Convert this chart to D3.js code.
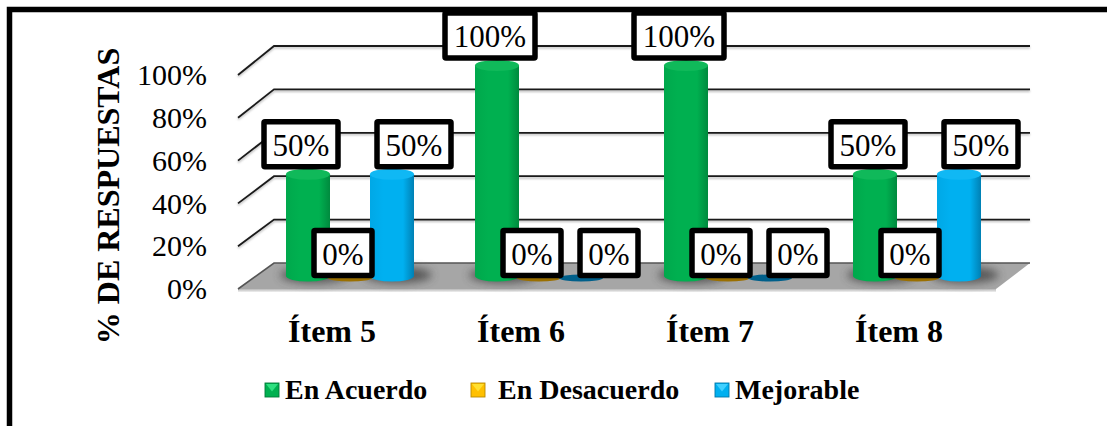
<!DOCTYPE html>
<html><head><meta charset="utf-8">
<script src="https://cdn.jsdelivr.net/npm/d3@7/dist/d3.min.js"></script>
<style>html,body{margin:0;padding:0;background:#fff}svg{display:block}text{font-family:"Liberation Serif",serif;fill:#000}</style>
</head><body><svg id="c" width="1107" height="426"></svg>
<script>
const categories = ["Ítem 5","Ítem 6","Ítem 7","Ítem 8"];
const seriesNames = ["En Acuerdo","En Desacuerdo","Mejorable"];
const enAcuerdo = [50,100,100,50];
const enDesacuerdo = [0,0,0,0];
const mejorable = [50,0,0,50];
const yTicks = [0,20,40,60,80,100];

const seriesValues = [enAcuerdo,enDesacuerdo,mejorable];
const palette = [
 {main:"#00b050",edge:"#008a3e",left:"#00a84c",top:"#10b95a",flat:"#00783a",hi:"#2fe080",dark:"#007a38"},
 {main:"#ffc000",edge:"#b88a00",left:"#f5b800",top:"#ffc800",flat:"#9a6f00",hi:"#ffe030",dark:"#b88a00"},
 {main:"#00b0f0",edge:"#0080b4",left:"#00a8e6",top:"#10b8f4",flat:"#005f8a",hi:"#40d0ff",dark:"#0078a8"}];

const svg = d3.select("#c");
const defs = svg.append("defs");
palette.forEach((p,i)=>{
  const g = defs.append("linearGradient").attr("id","cyl"+i);
  [[0,p.left],[.3,p.main],[.75,p.main],[1,p.edge]].forEach(s=>g.append("stop").attr("offset",s[0]).attr("stop-color",s[1]));
});
const fb = defs.append("filter").attr("id","blur").attr("x","-40%").attr("y","-150%").attr("width","180%").attr("height","400%");
fb.append("feGaussianBlur").attr("stdDeviation",4);
defs.append("filter").attr("id","soft").append("feGaussianBlur").attr("stdDeviation",.8);
const fg = defs.append("linearGradient").attr("id","floorEdge").attr("x1",0).attr("x2",0).attr("y1",0).attr("y2",1);
[[0,"#b8b8b8"],[1,"#f0f0f0"]].forEach(s=>fg.append("stop").attr("offset",s[0]).attr("stop-color",s[1]));

// scales
const x0 = d3.scaleBand().domain(categories).range([255.5,1011.5]);
const x1 = d3.scaleBand().domain(seriesNames).range([-63,63]);
const yBar = d3.scaleLinear().domain([0,100]).range([283,65.5]);
const yFront = d3.scaleLinear().domain([0,100]).range([289,75]);
const yBack = d3.scaleLinear().domain([0,100]).range([263,46]);
const xFront = 238, xBack = 274, xEnd = 1030, xFrontEnd = 996;

// frame
svg.append("path").attr("d","M9.5,426V9.5H1107").attr("fill","none").attr("stroke","#000").attr("stroke-width",5.5);

// floor
svg.append("path").attr("d",`M${xFront},${yFront(0)}L${xBack},${yBack(0)}L${xEnd},${yBack(0)}L${xFrontEnd},${yFront(0)}Z`).attr("fill","#a6a6a6");
svg.append("rect").attr("x",xFront).attr("y",yFront(0)).attr("width",xFrontEnd-xFront).attr("height",3).attr("fill","url(#floorEdge)");

// grid
const grid = svg.append("g");
yTicks.filter(d=>d>0).forEach(d=>{
  const path = `M${xFront},${yFront(d)}L${xBack},${yBack(d)}H${xEnd}`;
  grid.append("path").attr("d",path).attr("fill","none").attr("stroke","#bbb").attr("stroke-width",2).attr("transform","translate(0,1.5)").attr("filter","url(#soft)");
  grid.append("path").attr("d",path).attr("fill","none").attr("stroke","#1a1a1a").attr("stroke-width",1.8);
});
grid.append("path").attr("d",`M${xFront},${yFront(0)}L${xBack},${yBack(0)}H${xEnd}`).attr("fill","none").attr("stroke","#555").attr("stroke-width",1.6);

// y axis
const yAxis = d3.axisLeft(yFront).tickValues(yTicks).tickFormat(d=>d+"%").tickSize(0).tickPadding(0);
const yg = svg.append("g").attr("transform","translate(207,0)").call(yAxis);
yg.select(".domain").remove();
yg.selectAll("text").style("font-size","30px").style("font-family","Liberation Serif").attr("fill","#000");

// x axis
const xAxis = d3.axisBottom(x0).tickSize(0).tickPadding(0);
const xg = svg.append("g").attr("transform","translate(-18,319)").call(xAxis);
xg.select(".domain").remove();
xg.selectAll("text").style("font-size","32px").style("font-weight","bold").style("font-family","Liberation Serif").attr("fill","#000");

// flatten to marks
const rows = [];
categories.forEach((c,ci)=>seriesNames.forEach((s,si)=>rows.push({c,s,si,v:seriesValues[si][ci]})));
const cx = d=>x0(d.c)+x0.bandwidth()/2+x1(d.s)+x1.bandwidth()/2;
const rx = 22, ry = 5.5, baseLift = 7;

// shadows on the floor
svg.append("g").selectAll("ellipse").data(rows.filter(d=>d.v>0)).join("ellipse")
  .attr("cx",d=>cx(d)+6).attr("cy",yBar(0)-baseLift-1).attr("rx",rx+12).attr("ry",8)
  .attr("fill","#444").attr("opacity",.8).attr("filter","url(#blur)");

// bars
const bars = svg.append("g");
rows.forEach(d=>{
  const X = cx(d), p = palette[d.si];
  const b = yBar(0)-baseLift;
  if(d.v===0){
    bars.append("ellipse").attr("cx",X).attr("cy",b+2).attr("rx",rx).attr("ry",3.5).attr("fill",p.flat);
    return;
  }
  const t = yBar(d.v);
  bars.append("path").attr("d",`M${X-rx},${t}V${b}A${rx},${ry},0,0,0,${X+rx},${b}V${t}Z`).attr("fill",`url(#cyl${d.si})`);
  bars.append("ellipse").attr("cx",X).attr("cy",t).attr("rx",rx).attr("ry",ry).attr("fill",p.top);
});

// data labels
const labelDx = d=> d.si===2 ? (d.v===0 ? 28 : 22) : -7;
const labels = svg.append("g");
rows.forEach(d=>{
  const X = cx(d)+labelDx(d), Y = yBar(d.v) - 30;
  const w = d.v===100 ? 90 : d.v===50 ? 74 : 58, h = 45;
  labels.append("rect").attr("x",X-w/2).attr("y",Y-h/2).attr("width",w).attr("height",h).attr("rx",1)
    .attr("fill","#fff").attr("stroke","#000").attr("stroke-width",5.5);
  labels.append("text").attr("x",X).attr("y",Y+11.5).attr("text-anchor","middle").style("font-size","31px").text(d.v+"%");
});

// y title
svg.append("text").attr("transform","translate(119,196) rotate(-90)").attr("text-anchor","middle")
  .style("font-size","32px").style("font-weight","bold").text("% DE RESPUESTAS");

// legend
const legendX = d3.scaleOrdinal().domain(seriesNames).range([265,471,715]);
const legendTextX = d3.scaleOrdinal().domain(seriesNames).range([285,498,735]);
const lg = svg.append("g");
seriesNames.forEach((s,i)=>{
  const X = legendX(s), Y = 383, S = 14, p = palette[i];
  lg.append("rect").attr("x",X).attr("y",Y).attr("width",S).attr("height",S).attr("fill",p.main).attr("stroke",p.dark).attr("stroke-width",.9);
  lg.append("path").attr("d",`M${X+1},${Y+1}H${X+S-1}L${X+S/2},${Y+S*.6}Z`).attr("fill",p.hi);
  lg.append("text").attr("x",legendTextX(s)).attr("y",399).style("font-size","28px").style("font-weight","bold").text(s);
});
</script></body></html>
